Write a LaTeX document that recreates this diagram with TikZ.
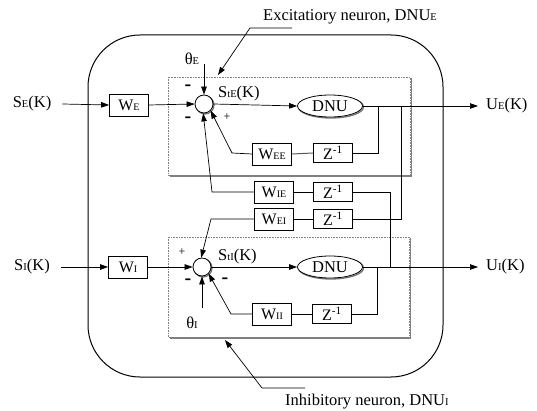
\documentclass[tikz,border=0pt]{standalone}
\usepackage{fontspec}
\setmainfont{Liberation Serif}
\usetikzlibrary{arrows.meta,shapes.geometric}
\newcommand\lsub[1]{{\fontsize{10.5}{10.5}\selectfont #1}}
\newcommand\bsub[1]{{\fontsize{10}{10}\selectfont #1}}
\tikzset{
  lbl/.style={inner sep=0pt,font=\fontsize{16.5}{16.5}\selectfont},
  blk/.style={draw,line width=0.8pt,minimum width=39pt,minimum height=22pt,inner sep=0pt,font=\fontsize{16}{16}\selectfont},
  zblk/.style={blk,minimum height=19pt},
  summ/.style={draw,line width=0.8pt,circle,minimum size=18pt,inner sep=0pt,fill=white},
  dnu/.style={draw,line width=0.8pt,ellipse,minimum width=65pt,minimum height=22pt,inner sep=0pt,fill=white,font=\fontsize{16.5}{16.5}\selectfont},
  arr/.style={line width=0.7pt,-{Triangle[length=8pt,width=5.5pt]}},
  ln/.style={line width=0.7pt},
  gln/.style={line width=1pt,draw=black!65},
  sgn/.style={inner sep=0pt,font=\fontsize{20}{20}\selectfont\bfseries},
  pls/.style={inner sep=0pt,font=\fontsize{12}{12}\selectfont},
  dotbox/.style={draw=black!50,densely dotted,line width=0.6pt},
  shd/.style={draw=black!55,line width=1.3pt},
}
\begin{document}
\begin{tikzpicture}[x=1pt,y=-1pt]
\useasboundingbox (0,0) rectangle (537,411);
% outer rounded box
\draw[line width=1pt,rounded corners=52pt] (88,35) rectangle (443,377);
% dotted neuron boxes
\draw[dotbox] (168,77) rectangle (410,175);
\draw[draw=black!50,line width=1.2pt] (411.5,78) -- (411.5,176) -- (170,176);
\draw[dotbox] (168,237) rectangle (409,337);
\draw[draw=black!50,line width=1.2pt] (410.5,238) -- (410.5,338) -- (170,338);

% shadows of summing points and DNU ellipses
\draw[shd] (205,105) circle (9pt);
\draw[shd] (203,268) circle (9pt);
\draw[shd] (331,107) ellipse (32.5pt and 11pt);
\draw[shd] (331,268) ellipse (32.5pt and 11pt);

% excitatory path
\node[lbl] (SE) at (32,104) {S\lsub{E}(K)};
\node[blk] (WE) at (129,105) {W\bsub{E}};
\node[summ] (sE) at (204,104) {};
\node[dnu] (DE) at (330,106) {DNU};
\coordinate (uE) at (478,106);
\node[lbl,anchor=west] (UE) at (486,106) {U\lsub{E}(K)};
\node[lbl] (thE) at (192,59) {θ\lsub{E}};
\coordinate (thEs) at (204,64);
\node[lbl,anchor=west] (StE) at (218,94) {S\lsub{tE}(K)};
\node[sgn] (m1) at (188,88) {-};
\node[sgn] (m2) at (188,120) {-};
\node[pls] (p1) at (227,117) {+};

\node[zblk] (ZEE) at (333,153) {Z\textsuperscript{-1}};
\node[blk] (WEE) at (272,154) {W\bsub{EE}};
\node[zblk] (ZIE) at (333,192) {Z\textsuperscript{-1}};
\node[blk] (WIE) at (274,192) {W\bsub{IE}};
\node[zblk] (ZEI) at (333,219) {Z\textsuperscript{-1}};
\node[blk] (WEI) at (274,219) {W\bsub{EI}};

% inhibitory path
\node[lbl] (SI) at (32,267) {S\lsub{I}(K)};
\node[blk] (WI) at (128,267) {W\bsub{I}};
\node[summ] (sI) at (202,267) {};
\node[dnu] (DI) at (330,267) {DNU};
\coordinate (uI) at (478,267);
\node[lbl,anchor=west] (UI) at (486,267) {U\lsub{I}(K)};
\node[lbl] (thI) at (192,323) {θ\lsub{I}};
\coordinate (thIs) at (202,308);
\node[lbl,anchor=west] (StI) at (218,257) {S\lsub{tI}(K)};
\node[pls] (p2) at (182,252) {+};
\node[sgn] (m3) at (188,282) {-};
\node[sgn] (m4) at (225,281) {-};
\node[zblk] (ZII) at (332,314) {Z\textsuperscript{-1}};
\node[blk] (WII) at (272,314) {W\bsub{II}};

% labels
\node[lbl,anchor=west] (LE) at (263,17) {Excitatiory neuron, DNU\lsub{E}};
\node[lbl,anchor=west] (LI) at (285,402) {Inhibitory neuron, DNU\lsub{I}};
\coordinate (LEa) at (292,28);
\coordinate (LEb) at (250,28);
\coordinate (LEt) at (218,75);
\coordinate (LIa) at (305,388);
\coordinate (LIb) at (262,388);
\coordinate (LIt) at (225,340);
\draw[arr] (LEa) -- (LEb) -- (LEt);
\draw[arr] (LIa) -- (LIb) -- (LIt);

% excitatory connections
\draw[arr] ([xshift=11pt]SE.east) -- (WE.west);
\draw[arr] (WE.east) -- (sE.west);
\draw[arr] (thEs) -- (sE.north);
\draw[arr] (sE.east) -- (DE.west);
\draw[arr] (DE.east) -- (uE);
\coordinate (jE1) at (378,106);
\coordinate (jE2) at (401,106);
\coordinate (bE1) at (232,153);
\draw[ln] (jE1) |- (ZEE.east);
\draw[gln] (ZEE.west) -- (WEE.east);
\draw[arr] (WEE.west) -- (bE1) -- (sE.-45);
\coordinate (jI1) at (390,267);
\coordinate (bE2) at (212,192);
\draw[ln] (ZIE.east) -| (jI1);
\draw[ln] (ZIE.west) -- (WIE.east);
\draw[arr] (WIE.west) -- (bE2) -- (sE.-95);
\coordinate (bI2) at (211,219);
\draw[ln] (ZEI.east) -| (jE2);
\draw[ln] (ZEI.west) -- (WEI.east);
\draw[arr] (WEI.west) -- (bI2) -- (sI.95);

% inhibitory connections
\draw[arr] ([xshift=11pt]SI.east) -- (WI.west);
\draw[arr] (WI.east) -- (sI.west);
\draw[arr] (thIs) -- (sI.south);
\draw[arr] (sI.east) -- (DI.west);
\draw[arr] (DI.east) -- (uI);
\coordinate (jI2) at (377,267);
\coordinate (bI1) at (231,314);
\draw[ln] (jI2) |- (ZII.east);
\draw[ln] (ZII.west) -- (WII.east);
\draw[arr] (WII.west) -- (bI1) -- (sI.-45);
\end{tikzpicture}
\end{document}
